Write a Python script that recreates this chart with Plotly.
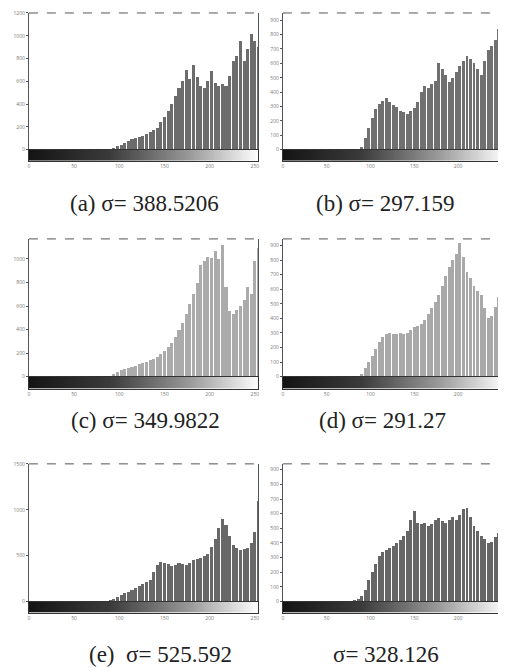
import plotly.graph_objects as go

# the page body has an 8px margin; the figure is sized so that it fills the rest of the window
OFF = 8
W, H = 506 - OFF, 671 - OFF

# grey-level bins (width 4), bin centres
bin_width = 4
levels = list(range(2, 256, bin_width))
gradient_levels = list(range(256))

hist_a = [0, 0, 0, 0, 0, 0, 0, 0, 0, 0, 0, 0, 0, 0, 0, 0, 0, 0, 0, 0, 0, 0,
          5, 15, 30, 45, 60, 75, 90, 105, 115, 125, 140, 160, 175, 195, 240,
          290, 340, 400, 470, 540, 600, 700, 620, 740, 640, 560, 540, 600, 690,
          590, 560, 580, 560, 650, 780, 820, 950, 780, 880, 1020, 950, 900]
hist_b = [0, 0, 0, 0, 0, 0, 0, 0, 0, 0, 0, 0, 0, 0, 0, 0, 0, 0, 0, 0, 0, 0,
          20, 80, 150, 220, 280, 320, 340, 360, 330, 310, 300, 270, 260, 250,
          270, 290, 330, 400, 440, 430, 460, 480, 600, 560, 520, 470, 500, 540,
          580, 620, 650, 630, 600, 560, 520, 620, 690, 720, 760, 840, 790, 780]
hist_c = [0, 0, 0, 0, 0, 0, 0, 0, 0, 0, 0, 0, 0, 0, 0, 0, 0, 0, 0, 0, 0, 0, 0,
          20, 40, 55, 65, 75, 85, 95, 105, 115, 125, 140, 150, 170, 190, 215,
          250, 290, 340, 400, 460, 530, 620, 700, 800, 950, 980, 1020, 1010,
          1070, 1000, 1120, 760, 560, 530, 570, 600, 650, 760, 700, 980, 1090]
hist_d = [0, 0, 0, 0, 0, 0, 0, 0, 0, 0, 0, 0, 0, 0, 0, 0, 0, 0, 0, 0, 0, 0,
          20, 60, 100, 140, 190, 240, 270, 290, 300, 295, 290, 300, 295, 300,
          320, 340, 350, 360, 390, 430, 470, 510, 560, 620, 690, 750, 800, 840,
          920, 820, 720, 680, 620, 590, 560, 470, 400, 420, 480, 550, 610, 560]
hist_e = [0, 0, 0, 0, 0, 0, 0, 0, 0, 0, 0, 0, 0, 0, 0, 0, 0, 0, 0, 0, 0, 0,
          10, 30, 50, 70, 90, 110, 130, 150, 170, 190, 210, 240, 320, 400, 430,
          420, 410, 390, 400, 420, 410, 400, 420, 450, 470, 480, 500, 520, 600,
          680, 800, 900, 840, 720, 620, 580, 560, 570, 580, 640, 760, 1100]
hist_f = [0, 0, 0, 0, 0, 0, 0, 0, 0, 0, 0, 0, 0, 0, 0, 0, 0, 0, 0, 0,
          10, 20, 40, 80, 150, 200, 260, 310, 340, 350, 370, 380, 400, 420, 450,
          480, 560, 620, 540, 530, 540, 520, 530, 560, 570, 550, 540, 560, 580,
          560, 590, 630, 640, 580, 520, 480, 450, 430, 400, 410, 440, 470, 650, 690]

captions = ["(a) σ= 388.5206", "(b) σ= 297.159", "(c) σ= 349.9822",
            "(d) σ= 291.27", "(e)  σ= 525.592", "σ= 328.126"]
y_max = [1200, 950, 1170, 945, 1500, 940]
y_dtick = [200, 100, 200, 100, 500, 100]
bar_colors = ["#6c6c6c", "#707070", "#ababab", "#a9a9a9", "#686868", "#666666"]
x_tick_vals = [0, 50, 100, 150, 200, 250]

# geometry in window pixels
cols_px = [(28, 258), (283, 506)]
rows_px = [(10, 148, 159), (238, 377, 389), (465, 604, 615)]
caption_pos = [(144, 202), (386, 202), (145, 421), (383, 421), (160, 657), (387, 657)]

hists = [hist_a, hist_b, hist_c, hist_d, hist_e, hist_f]
x_range = [0, 253.5]

fig = go.Figure()
layout = dict(width=W, height=H, margin=dict(l=0, r=0, t=0, b=0),
              paper_bgcolor="white", plot_bgcolor="white", showlegend=False)
shapes = []
annotations = []

def fx(px):
    return min(max((px - OFF) / W, 0), 1)

def fy(py):
    return min(max(1 - (py - OFF) / H, 0), 1)

for i, vals in enumerate(hists):
    r, c = divmod(i, 2)
    x0, x1 = cols_px[c]
    top, zero, gbot = rows_px[r]
    ha = 2 * i + 1
    ga = 2 * i + 2
    fig.add_trace(go.Bar(x=levels, y=vals, width=bin_width * 0.85,
                         marker=dict(color=bar_colors[i], line=dict(width=0)),
                         xaxis=f"x{ha}", yaxis=f"y{ha}", hoverinfo="skip"))
    fig.add_trace(go.Heatmap(x=gradient_levels, y=[0], z=[gradient_levels],
                             colorscale=[[0, "#141414"], [0.35, "#3a3a3a"], [0.7, "#9a9a9a"], [1, "#ffffff"]],
                             showscale=False, xaxis=f"x{ga}", yaxis=f"y{ga}", hoverinfo="skip"))
    layout[f"xaxis{ha}"] = dict(domain=[fx(x0), fx(x1)], range=x_range, anchor=f"y{ha}",
                                showticklabels=False, showgrid=False, zeroline=False,
                                showline=False, ticks="")
    layout[f"yaxis{ha}"] = dict(domain=[fy(zero), fy(top)], range=[0, y_max[i]], anchor=f"x{ha}",
                                dtick=y_dtick[i], tick0=0, ticks="outside", ticklen=2,
                                tickcolor="#555", tickfont=dict(size=5, color="#777"),
                                showgrid=False, zeroline=False, showline=True,
                                linecolor="#555", linewidth=1, mirror=True)
    layout[f"xaxis{ga}"] = dict(domain=[fx(x0), fx(x1)], range=x_range, anchor=f"y{ga}",
                                tickvals=x_tick_vals, ticks="", ticklen=0,
                                tickfont=dict(size=5, color="#777"),
                                showgrid=False, zeroline=False, showline=True,
                                linecolor="#333", linewidth=1, mirror=True)
    layout[f"yaxis{ga}"] = dict(domain=[fy(gbot), fy(zero)], range=[-0.5, 0.5], anchor=f"x{ga}",
                                showticklabels=False, showgrid=False, zeroline=False,
                                showline=True, linecolor="#333", linewidth=1, mirror=True, ticks="")
    # dashed top border
    shapes.append(dict(type="line", xref="paper", yref="paper",
                       x0=fx(x0), x1=fx(x1), y0=fy(top), y1=fy(top),
                       line=dict(color="#555", width=1, dash="dash")))
    cx, cy = caption_pos[i]
    annotations.append(dict(text=captions[i], xref="paper", yref="paper",
                            x=fx(cx), y=fy(cy), showarrow=False,
                            xanchor="center", yanchor="middle",
                            font=dict(family="Liberation Serif", size=23, color="#222")))

layout["shapes"] = shapes
layout["annotations"] = annotations
layout["bargap"] = 0
fig.update_layout(**layout)
fig.write_html("out.html")
